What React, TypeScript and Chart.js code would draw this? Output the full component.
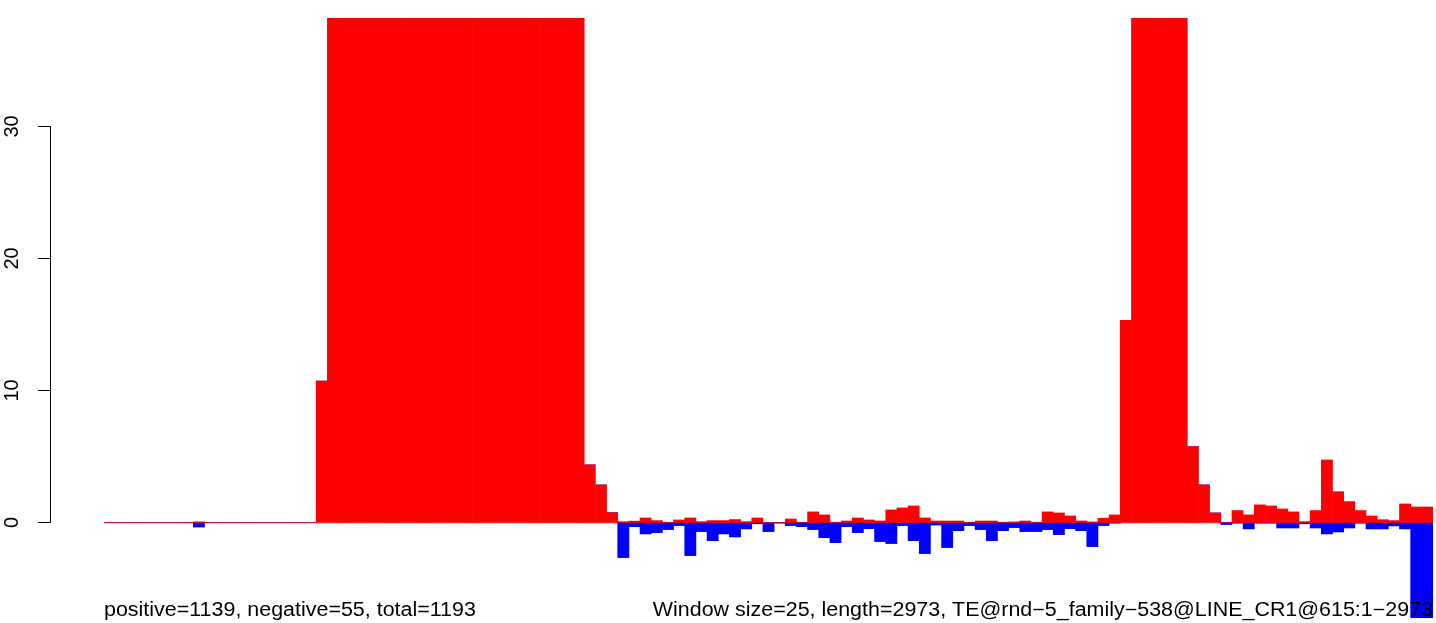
import React, { useEffect, useRef } from "react";
import { Chart, registerables } from "chart.js";

Chart.register(...registerables);

// Positive-strand coverage per 25-bp window (values above ~38 are clipped in the reference)
const positiveValues: number[] = [
  0, 0, 0, 0, 0, 0, 0, 0,
  0.05,
  0, 0, 0, 0, 0, 0, 0, 0, 0, 0,
  10.7,
  45, 45, 45, 45, 45, 45, 45, 45, 45, 45, 45, 45, 45, 45, 45, 45, 45, 45, 45, 45, 45, 45, 45,
  4.36, 2.84, 0.74,
  0.06, 0.1, 0.34, 0.14, 0, 0.19, 0.34, 0.06, 0.14, 0.14,
  0.22, 0.06, 0.34, 0, 0, 0.26, 0, 0.8, 0.57, 0,
  0.11, 0.34, 0.19, 0.11, 0.95, 1.1, 1.25, 0.34, 0.11, 0.11,
  0.11, 0, 0.11, 0.11, 0, 0.04, 0.11, 0, 0.8, 0.72,
  0.49, 0.11, 0.04, 0.32, 0.57,
  15.3,
  45, 45, 45, 45, 45,
  5.74, 2.84, 0.72,
  0, 0.9, 0.57, 1.33, 1.25, 1.02, 0.8, 0.06, 0.9, 4.73,
  2.33, 1.58, 0.9, 0.49, 0.21, 0.14, 1.4, 1.17, 1.17,
];

// Negative-strand coverage per window
const negativeValues: number[] = [
  0, 0, 0, 0, 0, 0, 0, 0,
  -0.35,
  0, 0, 0, 0, 0, 0, 0, 0, 0, 0,
  0,
  0, 0, 0, 0, 0, 0, 0, 0, 0, 0, 0, 0, 0, 0, 0, 0, 0, 0, 0, 0, 0, 0, 0,
  0, 0, 0,
  -2.66, -0.32, -0.87, -0.77, -0.54, -0.24, -2.51, -0.69, -1.38, -0.87,
  -1.1, -0.49, -0.1, -0.69, -0.05, -0.24, -0.32, -0.54, -1.15, -1.53,
  -0.32, -0.77, -0.47, -1.45, -1.6, -0.24, -1.38, -2.36, -0.2, -1.9,
  -0.62, -0.24, -0.54, -1.38, -0.62, -0.39, -0.69, -0.69, -0.54, -0.92,
  -0.47, -0.62, -1.83, -0.24, -0.05,
  0,
  0, 0, 0, 0, 0,
  0, 0, 0,
  -0.16, -0.05, -0.49, -0.05, -0.05, -0.42, -0.42, -0.1, -0.42, -0.87,
  -0.72, -0.42, -0.05, -0.49, -0.49, -0.26, -0.49, -7.2, -7.2,
];

const windowLabels: string[] = positiveValues.map((_, i) => String(i * 25 + 1));

const yTickValues: number[] = [0, 10, 20, 30];
const yTickLabels: string[] = ["0", "10", "20", "30"];

const leftCaption = "positive=1139, negative=55, total=1193";
const rightCaption =
  "Window size=25, length=2973, TE@rnd\u22125_family\u2212538@LINE_CR1@615:1\u22122973";

const FAMILY = '"Liberation Sans", Arial, Helvetica, sans-serif';
const CAPTION_STRETCH = 1.1;

const decorPlugin = {
  id: "rDecor",
  beforeDatasetsDraw(chart: any) {
    const { ctx, chartArea, scales } = chart;
    const y0 = scales.y.getPixelForValue(0);
    ctx.save();
    ctx.strokeStyle = "#a6a6a6";
    ctx.lineWidth = 1.2;
    ctx.beginPath();
    ctx.moveTo(chartArea.left, y0 + 0.5);
    ctx.lineTo(chartArea.right, y0 + 0.5);
    ctx.stroke();
    ctx.restore();
  },
  afterDraw(chart: any) {
    const { ctx, chartArea, scales } = chart;
    const y = scales.y;
    ctx.save();
    // y axis
    ctx.strokeStyle = "#000";
    ctx.lineWidth = 1;
    const axisX = 50.5;
    const yTop = y.getPixelForValue(yTickValues[yTickValues.length - 1]);
    const yBot = y.getPixelForValue(yTickValues[0]);
    ctx.beginPath();
    ctx.moveTo(axisX, Math.round(yTop) + 0.5);
    ctx.lineTo(axisX, Math.round(yBot) + 0.5);
    ctx.stroke();
    ctx.font = "20px " + FAMILY;
    ctx.fillStyle = "#000";
    yTickValues.forEach((v, i) => {
      const py = Math.round(y.getPixelForValue(v)) + 0.5;
      ctx.beginPath();
      ctx.moveTo(38, py);
      ctx.lineTo(axisX, py);
      ctx.stroke();
      ctx.save();
      ctx.translate(17.5, py);
      ctx.rotate(-Math.PI / 2);
      ctx.textAlign = "center";
      ctx.textBaseline = "alphabetic";
      ctx.fillText(yTickLabels[i], 0, 0);
      ctx.restore();
    });
    // captions
    ctx.font = "19.5px " + FAMILY;
    ctx.textBaseline = "alphabetic";
    ctx.save();
    ctx.translate(chartArea.left, 616);
    ctx.scale(CAPTION_STRETCH, 1);
    ctx.textAlign = "left";
    ctx.fillText(leftCaption, 0, 0);
    ctx.restore();
    ctx.save();
    ctx.translate(chartArea.right, 616);
    ctx.scale(CAPTION_STRETCH, 1);
    ctx.textAlign = "right";
    ctx.fillText(rightCaption, 0, 0);
    ctx.restore();
    ctx.restore();
  },
};

export default function App() {
  const canvasRef = useRef<HTMLCanvasElement | null>(null);

  useEffect(() => {
    if (!canvasRef.current) return;
    const chart = new Chart(canvasRef.current, {
      type: "bar",
      data: {
        labels: windowLabels,
        datasets: [
          {
            label: "positive",
            data: positiveValues,
            backgroundColor: "#ff0000",
            borderWidth: 0,
            barPercentage: 1,
            categoryPercentage: 1,
          },
          {
            label: "negative",
            data: negativeValues,
            backgroundColor: "#0000ff",
            borderWidth: 0,
            barPercentage: 1,
            categoryPercentage: 1,
          },
        ],
      },
      options: {
        animation: false,
        responsive: false,
        devicePixelRatio: 1,
        layout: { padding: { left: 104, right: 3, top: 18, bottom: 0 } },
        plugins: {
          legend: { display: false },
          tooltip: { enabled: false },
        },
        scales: {
          x: { stacked: true, display: false, grid: { display: false } },
          y: {
            stacked: true,
            display: false,
            min: -7.61,
            max: 38.18,
            grid: { display: false },
          },
        },
      },
      plugins: [decorPlugin],
    });
    return () => chart.destroy();
  }, []);

  return (
    <div style={{ position: "fixed", left: 0, top: 0, width: 1436, height: 623, background: "#fff" }}>
      <canvas ref={canvasRef} width={1436} height={623} />
    </div>
  );
}
